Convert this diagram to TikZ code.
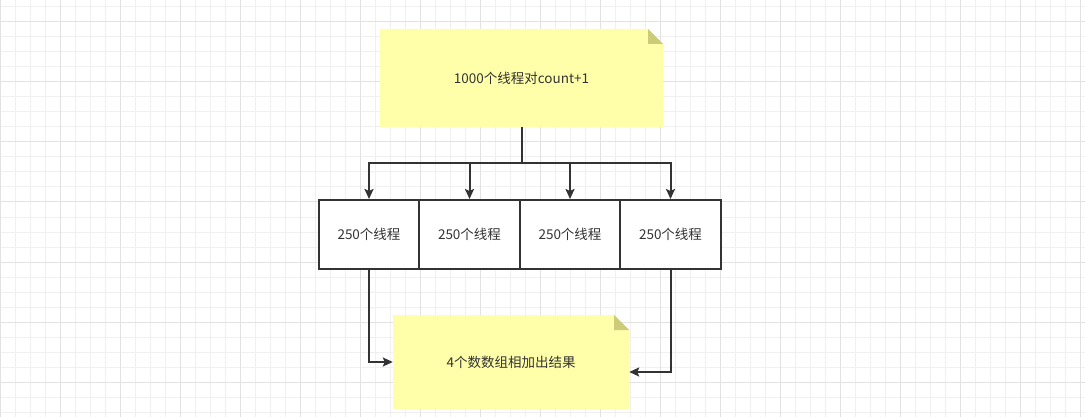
\documentclass[tikz,border=0pt]{standalone}
\usepackage{fontspec}
\newfontfamily\cjk{Noto Sans CJK SC}
\usepackage{tikz}
\usetikzlibrary{positioning,arrows.meta}
\definecolor{ink}{HTML}{333333}
\definecolor{notefill}{HTML}{FFFFAA}
\definecolor{foldfill}{HTML}{CCCC77}
\definecolor{gridminor}{HTML}{F0F0F0}
\definecolor{gridmajor}{HTML}{E2E2E2}

\begin{document}
\begin{tikzpicture}[x=1pt,y=-1pt]

    \tikzset{note/.style={rectangle, inner sep=0pt, text=ink,
      font=\cjk\fontsize{13.5}{15}\selectfont,
      path picture={
        \fill[notefill] (path picture bounding box.south west) |- ([xshift=-15pt]path picture bounding box.north east)
          -- ([yshift=-15pt]path picture bounding box.north east) |- cycle;
        \fill[foldfill] ([xshift=-15pt]path picture bounding box.north east)
          -- ([xshift=-15pt,yshift=-15pt]path picture bounding box.north east)
          -- ([yshift=-15pt]path picture bounding box.north east) -- cycle;
      }}}
    \tikzset{part/.style={rectangle, draw=ink, line width=2pt, fill=white, text=ink,
      minimum width=100.5pt, minimum height=69pt, inner sep=0pt,
      font=\cjk\fontsize{13.5}{15}\selectfont}}
    \tikzset{conn/.style={draw=ink, line width=2pt, -{Stealth[length=10pt,width=9pt,inset=2pt]}}}

    % BACKGROUND GRID
    \useasboundingbox[fill=white] (0,0) rectangle (1085,417);
    \foreach \gx in {0,15,...,1080} \draw[gridminor, line width=1pt] (\gx,0) -- (\gx,417);
    \foreach \gy in {7,22,...,412} \draw[gridminor, line width=1pt] (0,\gy) -- (1085,\gy);
    \foreach \gx in {0,60,...,1080} \draw[gridmajor, line width=1pt] (\gx,0) -- (\gx,417);
    \foreach \gy in {22,82,...,412} \draw[gridmajor, line width=1pt] (0,\gy) -- (1085,\gy);

    % TOP NOTE
    \node(top) at (521.5,78) [note, minimum width=283pt, minimum height=98pt] {1000个线程对count+1};

    % SPLIT INTO FOUR
    \node(t1) at (369,234.5) [part] {250个线程};
    \node(t2) at (469.5,234.5) [part] {250个线程};
    \node(t3) at (570,234.5) [part] {250个线程};
    \node(t4) at (670.5,234.5) [part] {250个线程};

    % RESULT NOTE
    \node(res) at (511,362) [note, minimum width=236pt, minimum height=94pt] {4个数数组相加出结果};

    % CONNECTORS
    \coordinate (split) at (521.5,163);
    \draw[ink, line width=2pt] (top.south) -- (split);
    \foreach \i in {1,...,4}
      \draw[conn] (split) -| (t\i.north);

    \draw[conn] (t1.south) |- (res.west);
    \draw[conn] (t4.south) |- ([yshift=-10pt]res.east);

\end{tikzpicture}
\end{document}
